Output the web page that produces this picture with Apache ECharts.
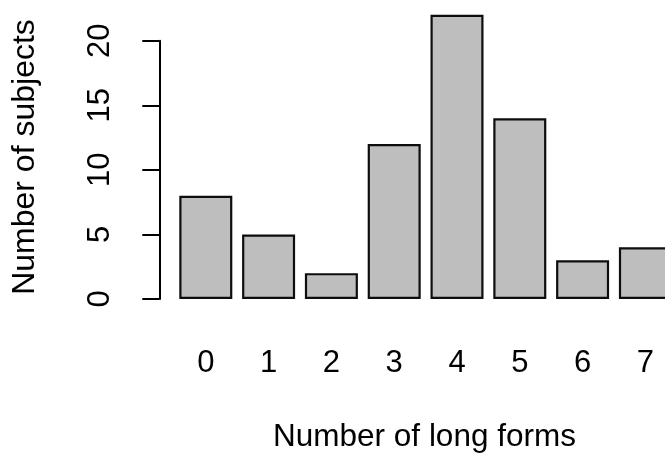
<!DOCTYPE html>
<html>
<head>
<meta charset="utf-8">
<style>
  html, body { margin: 0; padding: 0; background: #ffffff; }
  #chart { width: 665px; height: 456px; }
</style>
<script src="https://cdn.jsdelivr.net/npm/echarts@6/dist/echarts.min.js"></script>
</head>
<body>
<div id="chart"></div>
<script>
// Number of long forms used per subject
const categories = ['0', '1', '2', '3', '4', '5', '6', '7'];
const subjectCounts = [8, 5, 2, 12, 22, 14, 3, 4];
const yTicks = [0, 5, 10, 15, 20];

const FONT = '"Liberation Sans", Arial, Helvetica, sans-serif';
const chart = echarts.init(document.getElementById('chart'), null, { renderer: 'canvas' });

chart.setOption({
  animation: false,
  backgroundColor: '#ffffff',
  textStyle: { fontFamily: FONT },
  // plot area runs past the right edge of the canvas, so the last bar is cut off
  grid: { left: 174.4, top: 40.7, width: 502.4, height: 258.3, containLabel: false, outerBoundsMode: 'none' },
  xAxis: {
    type: 'category',
    data: categories,
    boundaryGap: true,
    axisLine: { show: false },
    axisTick: { show: false },
    axisLabel: { color: '#000', fontSize: 31, fontFamily: FONT, margin: 49 },
    splitLine: { show: false }
  },
  yAxis: {
    type: 'value',
    min: yTicks[0],
    max: yTicks[yTicks.length - 1],
    interval: 5,
    offset: 15.1,
    axisLine: { show: true, lineStyle: { color: '#000', width: 2 } },
    axisTick: { show: true, length: 17, lineStyle: { color: '#000', width: 2 } },
    axisLabel: { color: '#000', fontSize: 31, fontFamily: FONT, rotate: 90, margin: 43 },
    splitLine: { show: false }
  },
  series: [{
    type: 'bar',
    data: subjectCounts,
    barWidth: 53,
    clip: false,
    itemStyle: { color: '#bebebe', borderColor: '#0d0d0d', borderWidth: 2.2 }
  }],
  graphic: [
    {
      type: 'text',
      x: 25, y: 157,
      rotation: Math.PI / 2,
      style: {
        text: 'Number of subjects',
        fontSize: 32, fontFamily: FONT, fill: '#000',
        textAlign: 'center', textVerticalAlign: 'middle'
      }
    },
    {
      type: 'text',
      x: 424.5, y: 437,
      style: {
        text: 'Number of long forms',
        fontSize: 31.5, fontFamily: FONT, fill: '#000',
        textAlign: 'center', textVerticalAlign: 'middle'
      }
    }
  ]
});
</script>
</body>
</html>
